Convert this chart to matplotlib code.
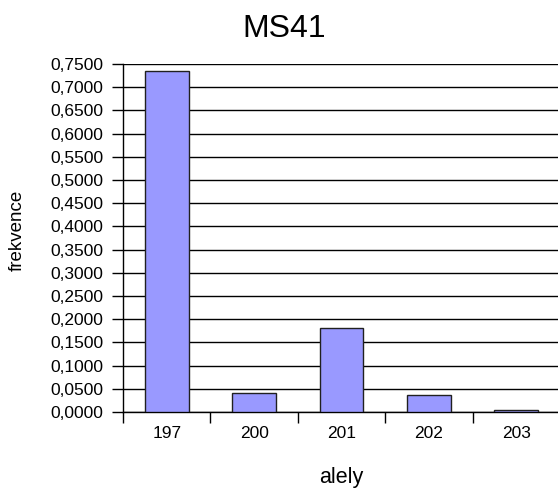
import matplotlib
matplotlib.use("Agg")
import matplotlib.pyplot as plt
import numpy as np

categories = ["197", "200", "201", "202", "203"]
values = [0.735, 0.041, 0.181, 0.037, 0.004]
yticks = [i * 0.05 for i in range(16)]
ytick_labels = [f"{v:.4f}".replace(".", ",") for v in yticks]

plt.rcParams['font.family'] = ['Liberation Sans', 'DejaVu Sans']

W, H = 558, 496
fig = plt.figure(figsize=(W / 100, H / 100), dpi=100)
left, right, bottom, top = 123, 560, 412, 64
ax = fig.add_axes([left / W, 1 - bottom / H, (right - left) / W, (bottom - top) / H])

x = np.arange(len(categories))
ax.bar(x, values, width=0.5, color="#9999FF", edgecolor="#202020", linewidth=1.0, zorder=3)

ax.set_xlim(-0.5, len(categories) - 0.5)
ax.set_ylim(0, 0.75)
ax.set_yticks(yticks)
ax.set_yticklabels(ytick_labels, fontsize=12.5)
ax.yaxis.grid(True, color="black", linewidth=1.0, zorder=0)
ax.set_axisbelow(True)

ax.set_xticks(x)
ax.set_xticklabels(categories, fontsize=12.5)
ax.set_xticks(np.arange(len(categories)) - 0.5, minor=True)
ax.tick_params(axis="x", which="major", length=0, pad=10)
ax.tick_params(axis="x", which="minor", length=8, width=1, color="black", direction="out")
ax.tick_params(axis="y", length=8, width=1, color="black", direction="out", pad=6)

for s in ["top", "right"]:
    ax.spines[s].set_visible(False)
ax.spines["left"].set_color("black")
ax.spines["bottom"].set_color("black")
ax.spines["left"].set_linewidth(1.0)
ax.spines["bottom"].set_linewidth(1.0)

fig.text(284 / W, 1 - 29 / H, "MS41", fontsize=23, ha="center", va="center")
fig.text(341 / W, 1 - 478 / H, "alely", fontsize=15.5, ha="center", va="center")
fig.text(17 / W, 1 - 230 / H, "frekvence", fontsize=13.5, ha="center", va="center", rotation=90)

fig.savefig("out.png", dpi=100)
